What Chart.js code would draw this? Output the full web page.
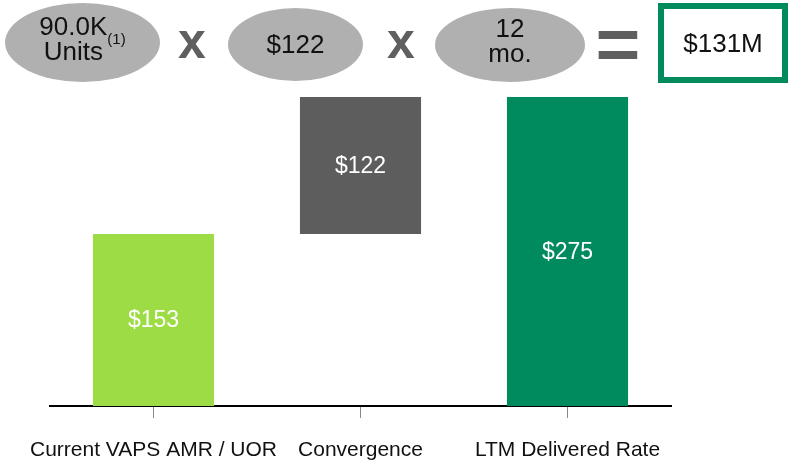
<!DOCTYPE html>
<html>
<head>
<meta charset="utf-8">
<script src="https://cdn.jsdelivr.net/npm/chart.js@4.4.0/dist/chart.umd.min.js"></script>
<style>
  body { margin: 0; background: #fff; }
  #wrap { position: relative; width: 790px; height: 463px; font-family: "Liberation Sans", Arial, sans-serif; }
  #wrap canvas { position: absolute; left: 0; top: 0; }
  .oval { position: absolute; box-sizing: border-box; background: #b0b0b0; border-radius: 50%; display: flex; align-items: center; justify-content: center; text-align: center; color: #111; font-size: 26px; line-height: 25px; }
  .two { padding-bottom: 8px; }
  .op { position: absolute; color: #5f5f5f; font-weight: bold; text-align: center; }
  .box { position: absolute; box-sizing: border-box; border: 6px solid #008b5e; display: flex; align-items: center; justify-content: center; font-size: 26px; color: #111; }
  sup { font-size: 15px; vertical-align: 13px; line-height: 0; }
</style>
</head>
<body>
<div id="wrap">
  <canvas id="myChart" width="790" height="463"></canvas>
  <div class="oval two" style="left:5px; top:3px; width:155px; height:79px;">90.0K<br>Units<sup>(1)</sup></div>
  <div class="op" style="left:170px; top:12px; width:44px; font-size:50px;">x</div>
  <div class="oval" style="left:228px; top:8px; width:135px; height:73px;">$122</div>
  <div class="op" style="left:379px; top:12px; width:44px; font-size:50px;">x</div>
  <div class="oval two" style="left:435px; top:8px; width:150px; height:74px;">12<br>mo.</div>
  <div class="op" style="left:592px; top:8px; width:52px; font-size:64px; transform: scale(1.2, 1.15);">=</div>
  <div class="box" style="left:658px; top:3px; width:130px; height:80px;">$131M</div>
</div>
<script>
// Categorías y valores del puente
const categorias = ['Current VAPS AMR / UOR', 'Convergence', 'LTM Delivered Rate'];
const valores = [153, 122, 275];
const inicios = [0, 153, 0];
const colores = ['#9ddc44', '#5d5d5d', '#008b5e'];

const rangos = valores.map((v, i) => [inicios[i], inicios[i] + v]);

// Etiquetas blancas dentro de cada barra
const etiquetas = {
    id: 'etiquetas',
    afterDatasetsDraw(chart) {
        const c = chart.ctx;
        c.save();
        c.fillStyle = '#ffffff';
        c.font = '23px "Liberation Sans", Arial, sans-serif';
        c.textAlign = 'center';
        c.textBaseline = 'middle';
        chart.getDatasetMeta(0).data.forEach((bar, i) => {
            c.fillText('$' + valores[i], bar.x, (bar.y + bar.base) / 2 + 1);
        });
        c.restore();
    }
};

Chart.defaults.font.family = '"Liberation Sans", Arial, sans-serif';

const ctx = document.getElementById('myChart').getContext('2d');
const chart = new Chart(ctx, {
    type: 'bar',
    data: {
        labels: categorias,
        datasets: [{
            data: rangos,
            backgroundColor: colores,
            borderWidth: 0,
            barPercentage: 0.585,
            categoryPercentage: 1
        }]
    },
    options: {
        responsive: false,
        animation: false,
        layout: { padding: { left: 50, right: 119, top: 97, bottom: 0 } },
        plugins: {
            legend: { display: false },
            tooltip: { enabled: false }
        },
        scales: {
            y: { display: false, min: 0, max: 275 },
            x: {
                afterFit: (scale) => { scale.height = 57; },
                border: { display: true, color: '#000000', width: 2 },
                grid: { drawOnChartArea: false, offset: false, tickLength: 12, color: '#888888', lineWidth: 1 },
                ticks: {
                    color: '#111111',
                    font: { size: 21 },
                    padding: 20,
                    maxRotation: 0,
                    minRotation: 0,
                    autoSkip: false
                }
            }
        }
    },
    plugins: [etiquetas]
});
</script>
</body>
</html>
